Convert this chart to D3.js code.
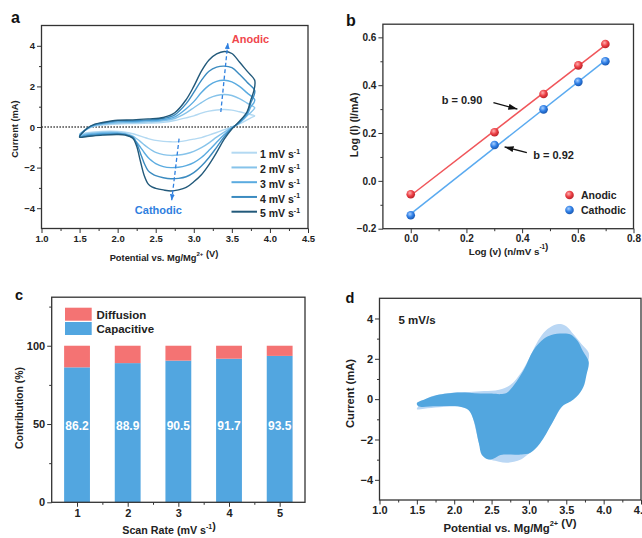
<!DOCTYPE html>
<html><head><meta charset="utf-8">
<script src="https://cdn.jsdelivr.net/npm/d3@7"></script>
<style>
body{margin:0;background:#fff}
svg{display:block}
text{font-family:"Liberation Sans",Arial,sans-serif;font-weight:bold}
</style>
</head><body>
<svg id="fig" width="642" height="538"></svg>
<script>
// ---------------- DATA ----------------
// Panel a: CV curves at 5 scan rates
const scanLabels = ["1 mV s", "2 mV s", "3 mV s", "4 mV s", "5 mV s"];
const fwdPotential = [1.5,1.6,1.7,1.8,2.0,2.2,2.4,2.6,2.75,2.9,3.0,3.1,3.2,3.3,3.4,3.5,3.6,3.7,3.8];
const fwdCurrent1 = [-0.35,-0.1,0.04,0.1,0.15,0.17,0.19,0.23,0.32,0.45,0.55,0.68,0.78,0.84,0.86,0.83,0.75,0.65,0.55];
const fwdCurrent2 = [-0.4,-0.09,0.07,0.14,0.2,0.22,0.25,0.3,0.42,0.7,0.95,1.2,1.42,1.55,1.6,1.55,1.4,1.18,0.95];
const fwdCurrent3 = [-0.45,-0.08,0.1,0.17,0.25,0.27,0.31,0.36,0.5,0.9,1.25,1.7,2.05,2.25,2.3,2.22,2.0,1.68,1.35];
const fwdCurrent4 = [-0.48,-0.07,0.12,0.2,0.3,0.31,0.35,0.42,0.6,1.15,1.7,2.3,2.75,2.95,3.0,2.92,2.6,2.2,1.8];
const fwdCurrent5 = [-0.5,-0.06,0.14,0.22,0.33,0.35,0.4,0.47,0.7,1.35,2.0,2.75,3.3,3.6,3.72,3.62,3.2,2.75,2.3];
const revPotential = [3.79,3.75,3.7,3.6,3.5,3.4,3.3,3.2,3.1,3.0,2.9,2.8,2.7,2.6,2.5,2.45,2.4,2.35,2.3,2.25,2.2,2.1,2.0,1.8,1.6];
const revCurrent1 = [0.52,0.45,0.35,0.15,0.0,-0.13,-0.27,-0.4,-0.52,-0.6,-0.67,-0.72,-0.73,-0.71,-0.66,-0.62,-0.57,-0.51,-0.45,-0.39,-0.33,-0.26,-0.22,-0.22,-0.28];
const revCurrent2 = [0.88,0.72,0.55,0.2,-0.02,-0.25,-0.5,-0.78,-1.02,-1.2,-1.32,-1.38,-1.4,-1.36,-1.25,-1.15,-1.02,-0.88,-0.72,-0.58,-0.45,-0.32,-0.27,-0.27,-0.33];
const revCurrent3 = [1.2,1.0,0.6,0.2,-0.04,-0.37,-0.75,-1.15,-1.5,-1.75,-1.9,-1.98,-2.0,-1.95,-1.8,-1.67,-1.5,-1.27,-1.0,-0.75,-0.55,-0.36,-0.31,-0.32,-0.38];
const revCurrent4 = [1.55,1.2,0.7,0.25,-0.06,-0.48,-1.0,-1.5,-1.92,-2.25,-2.45,-2.53,-2.55,-2.5,-2.4,-2.3,-2.15,-1.8,-1.3,-0.8,-0.5,-0.37,-0.34,-0.37,-0.43];
const revCurrent5 = [1.8,1.35,0.75,0.28,-0.1,-0.6,-1.25,-1.85,-2.35,-2.7,-2.98,-3.1,-3.15,-3.1,-3.02,-2.95,-2.8,-2.4,-1.7,-0.95,-0.55,-0.4,-0.37,-0.4,-0.47];
const anodicArrow = [[3.355, 0.74], [3.447, 4.14]];
const cathodicArrow = [[2.807, -0.57], [2.71, -3.61]];

// Panel b: log(I) vs log(v)
const logRate = [0, 0.301, 0.477, 0.602, 0.699];
const logAnodic = [-0.056, 0.203, 0.363, 0.483, 0.572];
const logCathodic = [-0.144, 0.15, 0.299, 0.414, 0.5];
const bLabels = ["b = 0.90", "b = 0.92"];

// Panel c: capacitive contribution
const rateCats = [1, 2, 3, 4, 5];
const capacitivePct = [86.2, 88.9, 90.5, 91.7, 93.5];

// Panel d: capacitive region at 5 mV/s
const capFwdPotential = [1.5,1.6,1.77,1.9,2.04,2.2,2.35,2.5,2.62,2.7,2.8,2.93,3.06,3.2,3.3,3.45,3.55,3.65,3.72,3.8];
const capFwdCurrent = [-0.2,-0.02,0.2,0.28,0.33,0.32,0.28,0.28,0.25,0.3,0.7,1.44,2.43,3.0,3.18,3.25,3.22,2.9,2.4,1.85];
const capRevPotential = [3.77,3.73,3.66,3.6,3.55,3.44,3.31,3.15,3.02,2.9,2.75,2.62,2.53,2.46,2.37,2.33,2.26,2.19,2.08,1.77,1.52];
const capRevCurrent = [1.2,0.61,0.2,0.0,-0.13,-0.38,-1.2,-2.19,-2.66,-2.75,-2.74,-2.77,-2.94,-2.99,-2.77,-2.19,-1.04,-0.54,-0.38,-0.35,-0.35];

// ---------------- HELPERS ----------------
const svg = d3.select("#fig");
const INK = "#222";

function rich(sel, parts, fs) {
  parts.forEach(p => {
    if (p.sup) {
      sel.append("tspan").attr("dy", -0.42 * fs).attr("font-size", fs * 0.65).text(p.t);
      sel.append("tspan").attr("dy", 0.42 * fs).attr("font-size", fs).text("");
    } else {
      sel.append("tspan").attr("font-size", fs).text(p.t);
    }
  });
  return sel;
}

function axes(g, x, y, o) {
  const [x0, x1] = x.range(), [y0, y1] = y.range();
  const add = (axis) => {
    const a = g.append("g").call(axis);
    a.attr("font-family", null).attr("font-size", o.fs).attr("fill", null);
    a.select(".domain").remove();
    a.selectAll("line").attr("stroke", "#333").attr("stroke-width", 1);
    a.selectAll("text").attr("fill", INK);
    return a;
  };
  add(d3.axisBottom(x).tickValues(o.xMinor).tickSize(2.5).tickFormat("")).attr("transform", `translate(0,${y0})`);
  add(d3.axisBottom(x).tickValues(o.xMajor).tickSize(4.5).tickPadding(o.xPad ?? 2).tickFormat(o.xFmt)).attr("transform", `translate(0,${y0})`);
  add(d3.axisLeft(y).tickValues(o.yMinor).tickSize(2.5).tickFormat("")).attr("transform", `translate(${x0},0)`);
  add(d3.axisLeft(y).tickValues(o.yMajor).tickSize(4.5).tickPadding(2).tickFormat(o.yFmt)).attr("transform", `translate(${x0},0)`);
  g.append("rect").attr("x", x0).attr("y", y1).attr("width", x1 - x0).attr("height", y0 - y1)
    .attr("fill", "none").attr("stroke", "#333").attr("stroke-width", 1.3);
}

function panelLetter(t, px, py, fs) {
  svg.append("text").attr("x", px).attr("y", py).attr("font-size", fs).attr("fill", "#111").text(t);
}
function title(parts, px, py, fs, rot) {
  const t = svg.append("text").attr("text-anchor", "middle").attr("dominant-baseline", "central").attr("fill", INK)
    .attr("transform", `translate(${px},${py})` + (rot ? " rotate(-90)" : ""));
  rich(t, parts, fs);
}

// defs
const defs = svg.append("defs");
function arrowMarker(id, color, w, h) {
  defs.append("marker").attr("id", id).attr("viewBox", `0 0 ${w} ${h}`).attr("refX", w).attr("refY", h / 2)
    .attr("markerWidth", w).attr("markerHeight", h).attr("markerUnits", "userSpaceOnUse").attr("orient", "auto")
    .append("path").attr("d", `M0,0L${w},${h / 2}L0,${h}Z`).attr("fill", color);
}
arrowMarker("arrBlue", "#2f80e0", 6, 5);
arrowMarker("arrBlack", "#111", 9, 6);
function sphere(id, light, base, dark) {
  const gr = defs.append("radialGradient").attr("id", id).attr("cx", "40%").attr("cy", "35%").attr("r", "65%");
  gr.append("stop").attr("offset", "0%").attr("stop-color", light);
  gr.append("stop").attr("offset", "55%").attr("stop-color", base);
  gr.append("stop").attr("offset", "100%").attr("stop-color", dark);
}
sphere("gRed", "#ffb0b0", "#ec3f45", "#b82228");
sphere("gBlue", "#a9d0ff", "#2f7fe6", "#1a58b0");

// ---------------- PANEL A ----------------
{
  const x = d3.scaleLinear([1, 4.5], [41.5, 308]);
  const y = d3.scaleLinear([-5, 5], [228.5, 25.5]);
  const g = svg.append("g");
  const fwd = [fwdCurrent1, fwdCurrent2, fwdCurrent3, fwdCurrent4, fwdCurrent5];
  const rev = [revCurrent1, revCurrent2, revCurrent3, revCurrent4, revCurrent5];
  const colors = ["#b3d9f2", "#86c3ea", "#5aabe0", "#3b8bc0", "#22597a"];
  g.append("line").attr("x1", x(1)).attr("x2", x(4.5)).attr("y1", y(0)).attr("y2", y(0))
    .attr("stroke", "#222").attr("stroke-width", 1.3).attr("stroke-dasharray", "1.3,1.7");
  const line = d3.line().x(d => x(d[0])).y(d => y(d[1])).curve(d3.curveCatmullRomClosed.alpha(0.5));
  fwd.forEach((fc, k) => {
    const pts = fwdPotential.map((v, i) => [v, fc[i]]).concat(revPotential.map((v, i) => [v, rev[k][i]]));
    g.append("path").attr("d", line(pts)).attr("fill", "none").attr("stroke", colors[k]).attr("stroke-width", 1.4);
  });
  axes(g, x, y, {
    xMajor: d3.range(1, 4.51, 0.5), xMinor: d3.range(1.25, 4.5, 0.5), xFmt: d3.format(".1f"),
    yMajor: [-4, -2, 0, 2, 4], yMinor: [-3, -1, 1, 3], yFmt: d3.format("d"), fs: 9.5
  });
  g.append("line").attr("x1", x(anodicArrow[0][0])).attr("y1", y(anodicArrow[0][1]))
    .attr("x2", x(anodicArrow[1][0])).attr("y2", y(anodicArrow[1][1]))
    .attr("stroke", "#2f80e0").attr("stroke-width", 1.3).attr("stroke-dasharray", "4,2.5").attr("marker-end", "url(#arrBlue)");
  g.append("line").attr("x1", x(cathodicArrow[0][0])).attr("y1", y(cathodicArrow[0][1]))
    .attr("x2", x(cathodicArrow[1][0])).attr("y2", y(cathodicArrow[1][1]))
    .attr("stroke", "#2f80e0").attr("stroke-width", 1.3).attr("stroke-dasharray", "4,2.5").attr("marker-end", "url(#arrBlue)");
  g.append("text").attr("x", x(3.5)).attr("y", y(4.32)).attr("dominant-baseline", "central")
    .attr("font-size", 11).attr("fill", "#f0464c").text("Anodic");
  g.append("text").attr("x", x(2.535)).attr("y", y(-4.07)).attr("dominant-baseline", "central").attr("text-anchor", "middle")
    .attr("font-size", 11).attr("fill", "#2f80e0").text("Cathodic");
  scanLabels.forEach((lab, k) => {
    const ly = 152.7 + k * 14.75;
    g.append("line").attr("x1", 231.5).attr("x2", 257).attr("y1", ly).attr("y2", ly)
      .attr("stroke", colors[k]).attr("stroke-width", 2);
    const t = g.append("text").attr("x", 260).attr("y", ly).attr("dy", "0.36em").attr("fill", INK);
    rich(t, [{ t: lab }, { t: "-1", sup: true }], 10.5);
  });
  panelLetter("a", 11, 23, 16);
  title([{ t: "Current (mA)" }], 15, 129, 9.3, true);
  title([{ t: "Potential vs. Mg/Mg" }, { t: "2+", sup: true }, { t: " (V)" }], 164, 257.5, 9.3, false);
}

// ---------------- PANEL B ----------------
{
  const x = d3.scaleLinear([-0.1, 0.8], [382.9, 633.5]);
  const y = d3.scaleLinear([-0.2, 0.655], [228.7, 24.2]);
  const g = svg.append("g");
  axes(g, x, y, {
    xMajor: [0, 0.2, 0.4, 0.6, 0.8], xMinor: [0.1, 0.3, 0.5, 0.7], xFmt: d3.format(".1f"), xPad: 1.5,
    yMajor: [-0.2, 0, 0.2, 0.4, 0.6], yMinor: [-0.1, 0.1, 0.3, 0.5], yFmt: d3.format(".1f"), fs: 10
  });
  const fit = (xs, ys) => {
    const mx = d3.mean(xs), my = d3.mean(ys);
    const s = d3.sum(xs, (v, i) => (v - mx) * (ys[i] - my)) / d3.sum(xs, v => (v - mx) ** 2);
    return [s, my - s * mx];
  };
  const series = [
    { ys: logAnodic, line: "#f0555a", grad: "url(#gRed)" },
    { ys: logCathodic, line: "#5aaaf0", grad: "url(#gBlue)" }
  ];
  series.forEach(s => {
    const [m, c] = fit(logRate, s.ys);
    const x0 = d3.min(logRate), x1 = d3.max(logRate);
    g.append("line").attr("x1", x(x0)).attr("y1", y(m * x0 + c)).attr("x2", x(x1)).attr("y2", y(m * x1 + c))
      .attr("stroke", s.line).attr("stroke-width", 1.5);
  });
  series.forEach(s => {
    g.selectAll(null).data(logRate).join("circle").attr("cx", d => x(d)).attr("cy", (d, i) => y(s.ys[i]))
      .attr("r", 4.3).attr("fill", s.grad);
  });
  g.append("text").attr("x", x(0.111)).attr("y", y(0.338)).attr("dominant-baseline", "central")
    .attr("font-size", 11).attr("fill", INK).text(bLabels[0]);
  g.append("line").attr("x1", x(0.297)).attr("y1", y(0.327)).attr("x2", x(0.383)).attr("y2", y(0.3))
    .attr("stroke", "#111").attr("stroke-width", 1.4).attr("marker-end", "url(#arrBlack)");
  g.append("text").attr("x", x(0.44)).attr("y", y(0.108)).attr("dominant-baseline", "central")
    .attr("font-size", 11).attr("fill", INK).text(bLabels[1]);
  g.append("line").attr("x1", x(0.417)).attr("y1", y(0.118)).attr("x2", x(0.337)).attr("y2", y(0.142))
    .attr("stroke", "#111").attr("stroke-width", 1.4).attr("marker-end", "url(#arrBlack)");
  [["Anodic", "url(#gRed)", 195], ["Cathodic", "url(#gBlue)", 210]].forEach(([lab, f, ly]) => {
    g.append("circle").attr("cx", 569.5).attr("cy", ly).attr("r", 4.3).attr("fill", f);
    g.append("text").attr("x", 581).attr("y", ly).attr("dy", "0.36em").attr("font-size", 10.5).attr("fill", INK).text(lab);
  });
  panelLetter("b", 346, 26, 16);
  title([{ t: "Log (I) (I/mA)" }], 353.5, 125, 10.5, true);
  title([{ t: "Log (v) (n/mV s" }, { t: "-1", sup: true }, { t: ")" }], 508.5, 250.5, 9.8, false);
}

// ---------------- PANEL C ----------------
{
  const x = d3.scaleLinear([0.5, 5.5], [51.7, 305]);
  const y = d3.scaleLinear([0, 131], [502.3, 297.2]);
  const g = svg.append("g");
  const bw = x(1.255) - x(0.745);
  const blue = "#52a6e0", red = "#f47373";
  g.selectAll(null).data(rateCats).join("rect")
    .attr("x", d => x(d) - bw / 2).attr("width", bw)
    .attr("y", (d, i) => y(capacitivePct[i])).attr("height", (d, i) => y(0) - y(capacitivePct[i]))
    .attr("fill", blue);
  g.selectAll(null).data(rateCats).join("rect")
    .attr("x", d => x(d) - bw / 2).attr("width", bw)
    .attr("y", y(100)).attr("height", (d, i) => y(capacitivePct[i]) - y(100))
    .attr("fill", red);
  g.selectAll(null).data(rateCats).join("text")
    .attr("x", d => x(d)).attr("y", y(49)).attr("text-anchor", "middle").attr("dominant-baseline", "central")
    .attr("font-size", 12).attr("fill", "#fff").text((d, i) => capacitivePct[i].toFixed(1));
  axes(g, x, y, {
    xMajor: rateCats, xMinor: [1.5, 2.5, 3.5, 4.5], xFmt: d3.format("d"),
    yMajor: [0, 50, 100], yMinor: [25, 75, 125], yFmt: d3.format("d"), fs: 11
  });
  [["Diffusion", red, 307.7], ["Capacitive", blue, 322]].forEach(([lab, c, ly]) => {
    g.append("rect").attr("x", 65).attr("y", ly).attr("width", 26.7).attr("height", 13).attr("fill", c);
    g.append("text").attr("x", 96.5).attr("y", ly + 6.7).attr("dy", "0.36em").attr("font-size", 11.5).attr("fill", INK).text(lab);
  });
  panelLetter("c", 15, 300, 14.5);
  title([{ t: "Contribution (%)" }], 18.5, 408, 10.5, true);
  title([{ t: "Scan Rate (mV s" }, { t: "-1", sup: true }, { t: ")" }], 169, 530, 10.7, false);
}

// ---------------- PANEL D ----------------
{
  const x = d3.scaleLinear([1, 4.5], [379.5, 641]);
  const y = d3.scaleLinear([-5, 5], [500, 298.3]);
  const g = svg.append("g");
  const area = d3.line().x(d => x(d[0])).y(d => y(d[1])).curve(d3.curveCatmullRomClosed.alpha(0.5));
  const total = fwdPotential.map((v, i) => [v, fwdCurrent5[i]]).concat(revPotential.map((v, i) => [v, revCurrent5[i]]));
  const cap = capFwdPotential.map((v, i) => [v, capFwdCurrent[i]]).concat(capRevPotential.map((v, i) => [v, capRevCurrent[i]]));
  g.append("path").attr("d", area(total)).attr("fill", "#bad7f4");
  g.append("path").attr("d", area(cap)).attr("fill", "#52a6df");
  axes(g, x, y, {
    xMajor: d3.range(1, 4.51, 0.5), xMinor: d3.range(1.25, 4.5, 0.5), xFmt: d3.format(".1f"),
    yMajor: [-4, -2, 0, 2, 4], yMinor: [-3, -1, 1, 3], yFmt: d3.format("d"), fs: 11
  });
  g.append("text").attr("x", 398.5).attr("y", 319.5).attr("dominant-baseline", "central")
    .attr("font-size", 11.5).attr("fill", INK).text("5 mV/s");
  panelLetter("d", 345.5, 302.5, 14.5);
  title([{ t: "Current (mA)" }], 350, 393.5, 11.2, true);
  title([{ t: "Potential vs. Mg/Mg" }, { t: "2+", sup: true }, { t: " (V)" }], 510, 527.5, 11.4, false);
}
</script>
</body></html>
